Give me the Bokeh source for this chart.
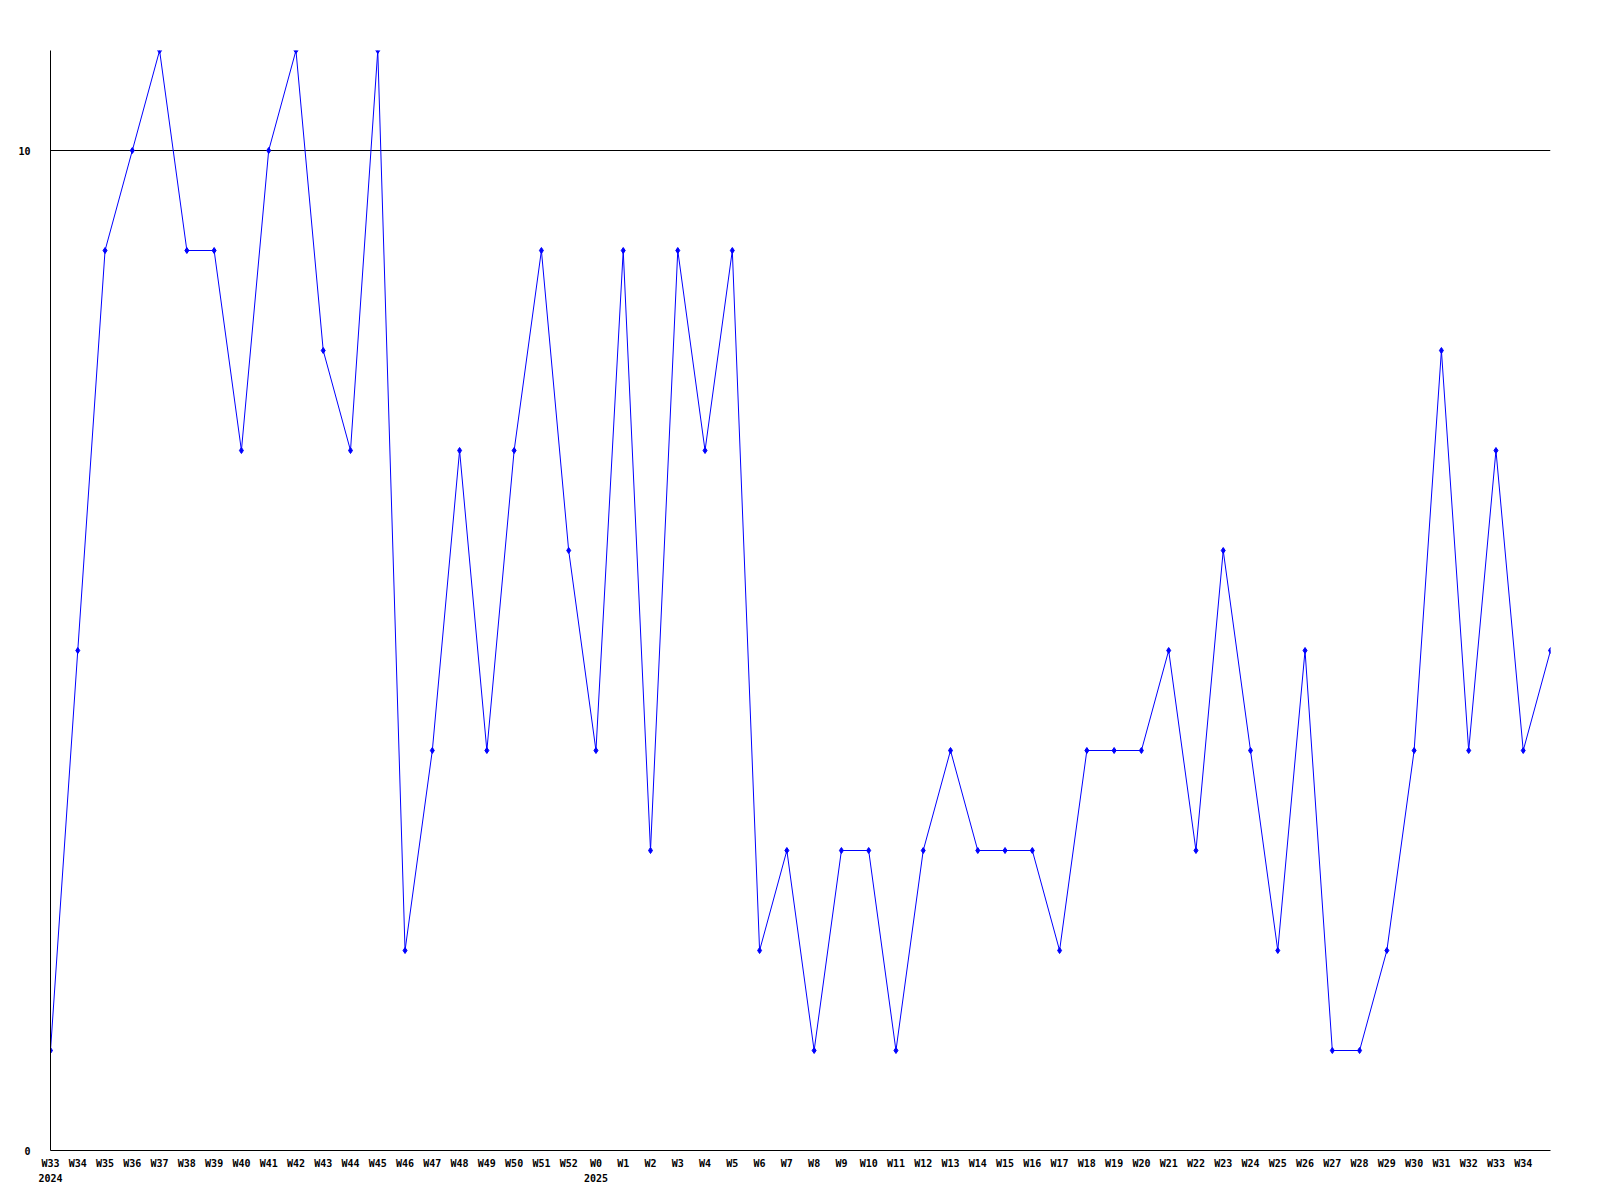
from bokeh.plotting import figure
from bokeh.models import FixedTicker, ColumnDataSource, Range1d
from bokeh.embed import file_html
from bokeh.resources import INLINE

weeks = ["W33", "W34", "W35", "W36", "W37", "W38", "W39", "W40", "W41", "W42",
         "W43", "W44", "W45", "W46", "W47", "W48", "W49", "W50", "W51", "W52",
         "W0", "W1", "W2", "W3", "W4", "W5", "W6", "W7", "W8", "W9", "W10",
         "W11", "W12", "W13", "W14", "W15", "W16", "W17", "W18", "W19", "W20",
         "W21", "W22", "W23", "W24", "W25", "W26", "W27", "W28", "W29", "W30",
         "W31", "W32", "W33", "W34"]
values = [1, 5, 9, 10, 11, 9, 9, 7, 10, 11,
          8, 7, 11, 2, 4, 7, 4, 7, 9, 6,
          4, 9, 3, 9, 7, 9, 2, 3, 1, 3, 3,
          1, 3, 4, 3, 3, 3, 2, 4, 4, 4,
          5, 3, 6, 4, 2, 5, 1, 1, 2, 4,
          8, 4, 7, 4, 5]
years = {0: "2024", 20: "2025"}
y_ticks = [0, 10]

FONT = "DejaVu Sans Mono"

src = ColumnDataSource(dict(x=list(range(len(values))), y=values))

p = figure(width=1592, height=1192, output_backend="svg", toolbar_location=None,
           x_range=Range1d(0, len(values) - 1), y_range=Range1d(0, 11),
           min_border_left=50, min_border_right=42, min_border_top=50,
           min_border_bottom=42)
p.outline_line_color = None
p.background_fill_color = "white"
p.border_fill_color = "white"

p.line("x", "y", source=src, line_color="#0000ff", line_width=1)
p.scatter("x", "y", source=src, marker="diamond", size=6, color="#0000ff")

labels = {}
for i, w in enumerate(weeks):
    labels[i] = w + ("\n" + years[i] if i in years else "")

xa = p.xaxis[0]
xa.ticker = FixedTicker(ticks=list(range(len(weeks))))
xa.major_label_overrides = labels
xa.major_tick_line_color = None
xa.minor_tick_line_color = None
xa.axis_line_color = "black"
xa.major_label_standoff = 1
xa.major_label_text_font = FONT
xa.major_label_text_font_style = "bold"
xa.major_label_text_font_size = "10px"
xa.major_label_text_line_height = 1.4
xa.major_label_text_color = "black"

ya = p.yaxis[0]
ya.ticker = FixedTicker(ticks=y_ticks)
ya.major_tick_line_color = None
ya.minor_tick_line_color = None
ya.axis_line_color = "black"
ya.major_label_standoff = 14
ya.major_label_text_align = "left"
ya.major_label_text_font = FONT
ya.major_label_text_font_style = "bold"
ya.major_label_text_font_size = "10px"
ya.major_label_text_color = "black"

p.xgrid.visible = False
p.ygrid.ticker = FixedTicker(ticks=y_ticks)
p.ygrid.grid_line_color = "black"
p.ygrid.grid_line_alpha = 1.0

open("out.html", "w").write(file_html(p, INLINE))
